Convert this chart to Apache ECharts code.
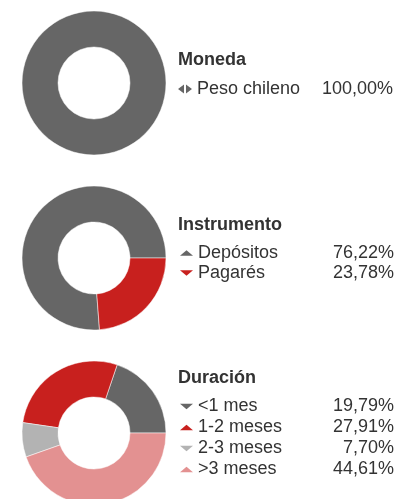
<!DOCTYPE html>
<html>
<head>
<meta charset="utf-8">
<script src="https://cdn.jsdelivr.net/npm/echarts@6/dist/echarts.min.js"></script>
<style>
  html, body { margin: 0; padding: 0; background: #fff; }
  #main { width: 413px; height: 499px; }
</style>
</head>
<body>
<div id="main"></div>
<script>
// datos de la cartera
const monedaNames = ['Peso chileno']
const monedaValues = [100.00]
const instrumentoNames = ['Depósitos', 'Pagarés']
const instrumentoValues = [76.22, 23.78]
const duracionNames = ['<1 mes', '1-2 meses', '2-3 meses', '>3 meses']
const duracionValues = [19.79, 27.91, 7.70, 44.61]

const GREY = '#666666'
const RED = '#c8201e'
const LIGHT = '#b3b3b3'
const PINK = '#e39191'
const FONT = '"Liberation Sans", Arial, sans-serif'

const UP = 'path://M0,5L6,0L12,5Z'
const DOWN = 'path://M0,0L12,0L6,5Z'
const LR = 'path://M0,4.5L6,0L6,9Z M8,0L14,4.5L8,9Z'

const valueByName = {}
const pairs = [[monedaNames, monedaValues], [instrumentoNames, instrumentoValues], [duracionNames, duracionValues]]
pairs.forEach(([names, vals]) => names.forEach((n, i) => { valueByName[n] = vals[i] }))

function pct(v) {
  return v.toFixed(2).replace('.', ',') + '%'
}

function pieData(names, values, colors) {
  return names.map((n, i) => ({ name: n, value: values[i], itemStyle: { color: colors[i] } }))
}

function makeLegend(names, icons, top, left, w, h, lh) {
  return {
    orient: 'vertical',
    left: left,
    top: top,
    padding: 0,
    itemGap: 0,
    itemWidth: w,
    itemHeight: h,
    selectedMode: false,
    itemStyle: { borderWidth: 0 },
    data: names.map((n, i) => ({ name: n, icon: icons[i] })),
    formatter: name => `{n|${name}}{v|${pct(valueByName[name])}}`,
    textStyle: {
      fontFamily: FONT,
      fontSize: 18,
      color: '#333',
      lineHeight: lh,
      rich: {
        n: { fontFamily: FONT, fontSize: 18, color: '#333', width: 110, lineHeight: lh },
        v: { fontFamily: FONT, fontSize: 18, color: '#333', width: 86, align: 'right', lineHeight: lh }
      }
    }
  }
}

function makePie(center, names, values, colors) {
  return {
    type: 'pie',
    center: center,
    radius: [36, 72],
    startAngle: 0,
    clockwise: false,
    label: { show: false },
    labelLine: { show: false },
    emphasis: { disabled: true },
    itemStyle: { borderColor: '#fff', borderWidth: 0.5 },
    data: pieData(names, values, colors)
  }
}

const titleStyle = { fontFamily: FONT, fontSize: 18, fontWeight: 'bold', color: '#333', lineHeight: 20 }

const chart = echarts.init(document.getElementById('main'))
chart.setOption({
  animation: false,
  title: [
    { text: 'Moneda', left: 178, top: 50, padding: 0, textStyle: titleStyle },
    { text: 'Instrumento', left: 178, top: 215, padding: 0, textStyle: titleStyle },
    { text: 'Duración', left: 178, top: 368, padding: 0, textStyle: titleStyle }
  ],
  legend: [
    makeLegend(monedaNames, [LR], 79, 178, 14, 9, 20),
    makeLegend(instrumentoNames, [UP, DOWN], 243, 180, 13, 6, 20),
    makeLegend(duracionNames, [DOWN, UP, DOWN, UP], 396, 180, 13, 6, 21)
  ],
  series: [
    makePie([94, 83], monedaNames, monedaValues, [GREY]),
    makePie([94, 258], instrumentoNames, instrumentoValues, [GREY, RED]),
    makePie([94, 433], duracionNames, duracionValues, [GREY, RED, LIGHT, PINK])
  ]
})
</script>
</body>
</html>
